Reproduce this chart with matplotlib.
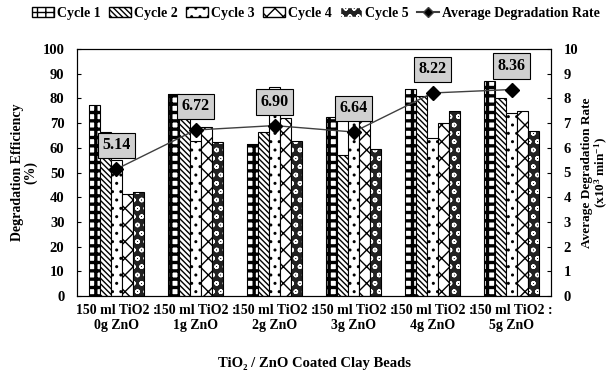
import numpy as np
import matplotlib
matplotlib.use("Agg")
import matplotlib.pyplot as plt
from matplotlib.patches import Patch
from matplotlib.lines import Line2D

plt.rcParams['font.family'] = ['Liberation Serif', 'DejaVu Serif']
plt.rcParams['font.weight'] = 'bold'
plt.rcParams['mathtext.fontset'] = 'custom'
plt.rcParams['mathtext.rm'] = 'Liberation Serif:bold'
plt.rcParams['mathtext.it'] = 'Liberation Serif:bold'
plt.rcParams['mathtext.bf'] = 'Liberation Serif:bold'

groups = ["150 ml TiO2 :\n0g ZnO", "150 ml TiO2 :\n1g ZnO", "150 ml TiO2 :\n2g ZnO",
          "150 ml TiO2 :\n3g ZnO", "150 ml TiO2 :\n4g ZnO", "150 ml TiO2 :\n5g ZnO"]
cycle_names = ["Cycle 1", "Cycle 2", "Cycle 3", "Cycle 4", "Cycle 5"]
cycle1 = [77.4, 81.8, 61.7, 72.4, 83.7, 87.1]
cycle2 = [66.5, 78.0, 66.3, 56.9, 80.8, 80.1]
cycle3 = [55.0, 62.6, 84.8, 73.0, 64.0, 74.1]
cycle4 = [41.1, 68.4, 72.0, 71.0, 70.0, 75.0]
cycle5 = [42.2, 62.2, 62.6, 59.5, 74.7, 66.9]
avg_rate = [5.14, 6.72, 6.90, 6.64, 8.22, 8.36]

series = [cycle1, cycle2, cycle3, cycle4, cycle5]
hatches = ['++', '\\\\\\\\\\\\', '..', 'xx', 'oo']
hatch_lw = [2.4, 1.0, 1.0, 1.0, 1.0]


def style(i):
    # face / hatch colours for each cycle
    if i == 4:
        return dict(facecolor='#222222', edgecolor='white', hatch=hatches[i])
    return dict(facecolor='white', edgecolor='black', hatch=hatches[i])


fig = plt.figure(figsize=(6.13, 3.75), dpi=100)
ax = fig.add_axes([0.1256, 0.2107, 0.7733, 0.6586])
ax2 = ax.twinx()

x = np.arange(len(groups))
w = 0.137
for i, vals in enumerate(series):
    pos = x + (i - 2) * w
    with plt.rc_context({'hatch.linewidth': hatch_lw[i]}):
        ax.bar(pos, vals, w, linewidth=0, **style(i))
    ax.bar(pos, vals, w, fill=False, edgecolor='black', linewidth=0.8)

ax.set_xlim(-0.5, 5.5)
ax.set_ylim(0, 100)
ax.set_yticks(np.arange(0, 101, 10))
ax.set_xticks(x)
ax.set_xticklabels(groups, fontsize=10, linespacing=1.15)
ax.tick_params(axis='x', length=0, pad=6)
ax.tick_params(axis='y', direction='in', length=3, labelsize=10.5, pad=9)
ax.set_ylabel("Degradation Efficiency\n(%)", fontsize=10, fontweight='bold', labelpad=4,
              linespacing=0.95)
ax.set_xlabel("TiO\u2082 / ZnO Coated Clay Beads", fontsize=10.5, fontweight='bold', labelpad=18)

ax2.plot(x, avg_rate, color='#404040', linewidth=1.0, marker='D', markersize=7,
         markerfacecolor='black', markeredgecolor='black', zorder=5)
ax2.set_ylim(0, 10)
ax2.set_yticks(np.arange(0, 11, 1))
ax2.tick_params(axis='y', direction='in', length=3, labelsize=10.5, pad=9)
ax2.set_ylabel("Average Degradation Rate\n(x10$^{3}$ min$^{-1}$)", fontsize=9.5,
               fontweight='bold', labelpad=2, linespacing=1.0)

for xi, v in zip(x, avg_rate):
    ax2.annotate(f"{v:.2f}", (xi, v), xytext=(0, 17), textcoords='offset points',
                 ha='center', va='center', fontsize=11.5, fontweight='bold',
                 bbox=dict(boxstyle='square,pad=0.3', facecolor='#d0d0d0', edgecolor='black', linewidth=0.8),
                 zorder=6)

for a in (ax, ax2):
    for s in a.spines.values():
        s.set_linewidth(0.8)

handles = []
for i, name in enumerate(cycle_names):
    handles.append(Patch(label=name, **style(i)))
handles.append(Line2D([0], [0], color='#404040', marker='D', markersize=5,
                      markerfacecolor='black', label='Average Degradation Rate'))
fig.legend(handles=handles, loc='center', bbox_to_anchor=(0.515, 0.965), ncol=6, frameon=False,
           fontsize=10, handlelength=1.6, handletextpad=0.2, columnspacing=0.6, borderaxespad=0)

fig.savefig("out.png", dpi=100)
